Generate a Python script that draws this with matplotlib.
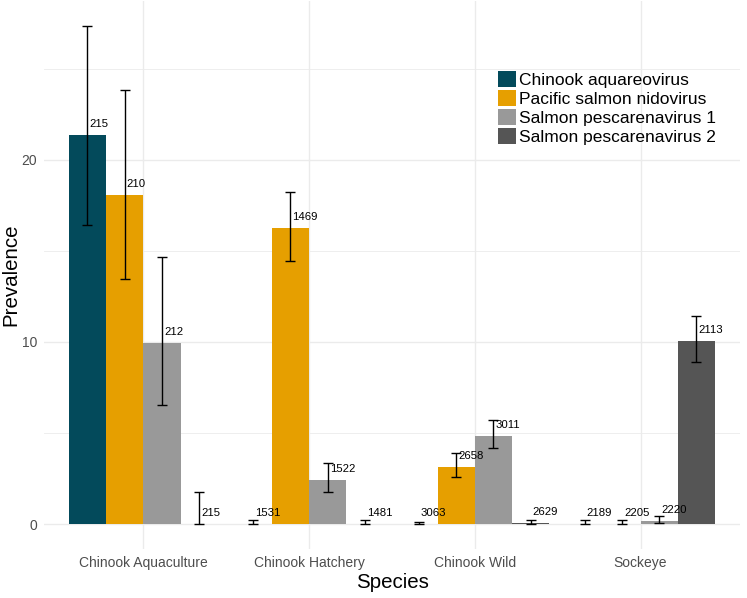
import matplotlib
matplotlib.use("Agg")
from matplotlib import pyplot as plt
from matplotlib.patches import Patch
import numpy as np

plt.rcParams['font.family'] = ['Liberation Sans', 'DejaVu Sans']

species = ["Chinook Aquaculture", "Chinook Hatchery", "Chinook Wild", "Sockeye"]
viruses = ["Chinook aquareovirus", "Pacific salmon nidovirus",
           "Salmon pescarenavirus 1", "Salmon pescarenavirus 2"]
colors = ["#034a5b", "#e69f00", "#999999", "#555555"]

# prevalence per virus, one value per species
prev_ca = [21.37, 0.0, 0.0, 0.0]
prev_psn = [18.09, 16.26, 3.15, 0.0]
prev_sp1 = [9.92, 2.42, 4.85, 0.18]
prev_sp2 = [0.0, 0.0, 0.04, 10.07]

# error bar lower / upper limits
lo_ca = [16.43, 0.0, 0.0, 0.0]
hi_ca = [27.38, 0.22, 0.12, 0.2]
lo_psn = [13.48, 14.47, 2.56, 0.0]
hi_psn = [23.86, 18.24, 3.88, 0.2]
lo_sp1 = [6.55, 1.76, 4.17, 0.07]
hi_sp1 = [14.67, 3.33, 5.71, 0.45]
lo_sp2 = [0.0, 0.0, 0.0, 8.88]
hi_sp2 = [1.76, 0.22, 0.2, 11.45]

# sample sizes shown above bars
n_ca = [215, 1531, 3063, 2189]
n_psn = [210, 1469, 2658, 2205]
n_sp1 = [212, 1522, 3011, 2220]
n_sp2 = [215, 1481, 2629, 2113]

prev = [prev_ca, prev_psn, prev_sp1, prev_sp2]
lows = [lo_ca, lo_psn, lo_sp1, lo_sp2]
highs = [hi_ca, hi_psn, hi_sp1, hi_sp2]
ns = [n_ca, n_psn, n_sp1, n_sp2]

fig = plt.figure(figsize=(7.47, 5.98), dpi=100)
ax = fig.add_axes([0.0589, 0.082, 0.9317, 0.917])

x = np.arange(1, len(species) + 1)
bw = 0.225
for k in range(len(viruses)):
    xs = x + (k - 1.5) * bw
    vals = np.array(prev[k])
    lo = np.array(lows[k])
    hi = np.array(highs[k])
    ax.bar(xs, vals, width=bw, color=colors[k], zorder=2)
    ax.errorbar(xs, vals, yerr=[vals - lo, hi - vals], fmt="none",
                ecolor="black", elinewidth=1.0, capsize=3.4, capthick=1.0, zorder=3)
    for xi, v, n in zip(xs, vals, ns[k]):
        ax.text(xi + 0.012, v + 0.6, str(n), ha="left", va="center",
                fontsize=8.2, color="black", zorder=4)

ymax = max(max(h) for h in highs)
pad = 0.05 * ymax
ax.set_ylim(-pad, ymax + pad)
ax.set_xlim(0.4, 4.6)

ax.set_xticks(x)
ax.set_xticklabels(species)
ax.set_yticks([0, 10, 20])
ax.set_yticks([5, 15, 25], minor=True)
ax.tick_params(axis="both", which="both", length=0, labelsize=10, labelcolor="#4d4d4d")
ax.tick_params(axis="x", pad=5)
ax.tick_params(axis="y", pad=5)

ax.grid(True, which="major", color="#ebebeb", linewidth=1.0, zorder=0)
ax.grid(True, which="minor", axis="y", color="#ebebeb", linewidth=0.6, zorder=0)
ax.set_axisbelow(True)
for s in ax.spines.values():
    s.set_visible(False)

ax.set_xlabel("Species", fontsize=14.8, labelpad=2)
ax.set_ylabel("Prevalence", fontsize=14.8, labelpad=1)

handles = [Patch(facecolor=c, edgecolor="none") for c in colors]
fig.legend(handles, viruses, loc="upper left", bbox_to_anchor=(0.6667, 0.8813),
           bbox_transform=fig.transFigure, frameon=False, fontsize=12.5,
           handlelength=1.04, handleheight=1.04, labelspacing=0.12,
           handletextpad=0.15, borderpad=0, borderaxespad=0)

fig.savefig("out.png", dpi=100)
